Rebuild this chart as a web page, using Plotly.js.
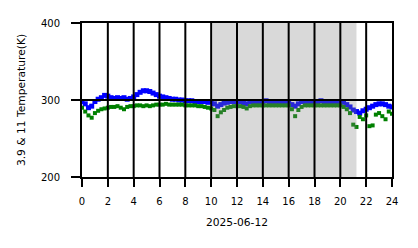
<!DOCTYPE html>
<html><head><meta charset="utf-8">
<script src="https://cdn.plot.ly/plotly-3.0.1.min.js"></script>
<style>html,body{margin:0;padding:0;background:#fff}#chart{width:418px;height:248px}</style>
</head><body><div id="chart"></div>
<script>
const dateLabel = "2025-06-12";
const yTitle = "3.9 & 11 Temperature(K)";
const xTicks = [0,2,4,6,8,10,12,14,16,18,20,22,24];
const yTicks = [200,300,400];
const shadeStart = 10.1;
const shadeEnd = 21.25;

const hours = [0,0.25,0.5,0.75,1,1.25,1.5,1.75,2,2.25,2.5,2.75,3,3.25,3.5,3.75,4,4.25,4.5,4.75,5,5.25,5.5,5.75,6,6.25,6.5,6.75,7,7.25,7.5,7.75,8,8.25,8.5,8.75,9,9.25,9.5,9.75,10,10.25,10.5,10.75,11,11.25,11.5,11.75,12,12.25,12.5,12.75,13,13.25,13.5,13.75,14,14.25,14.5,14.75,15,15.25,15.5,15.75,16,16.25,16.5,16.75,17,17.25,17.5,17.75,18,18.25,18.5,18.75,19,19.25,19.5,19.75,20,20.25,20.5,20.75,21,21.25,21.5,21.75,22,22.25,22.5,22.75,23,23.25,23.5,23.75,24];

const temp39 = [
298,295,290,292, 298,301,303,306, 305,303,302,303, 302,303,301,302,
304,307,310,312, 312,311,309,307, 305,304,303,302, 301,301,300,300,
299,299,299,298, 298,298,298,297, 298,295,292,294, 296,297,298,298,
298,298,296,295, 298,298,297,298, 298,299,298,298, 297,298,298,298,
297,294,292,295, 298,298,297,298, 298,298,299,298, 298,297,298,298,
298,297,294,291, 287,285,283,286, 288,290,292,294, 295,295,294,292, 291];

const temp11 = [
290,285,280,277, 283,286,288,289, 290,291,291,292, 290,288,291,292,
292,293,293,292, 293,292,293,294, 294,294,295,294, 294,294,294,294,
293,293,293,293, 292,292,291,290, 289,287,279,284, 287,290,291,292,
292,292,291,289, 292,293,293,293, 293,293,293,293, 293,293,293,293,
293,288,279,287, 291,293,293,293, 293,293,293,293, 293,293,293,293,
293,291,288,283, 268,265,278,275, 280,266,267,281, 283,279,275,285, 282];

const tickFont = {family: "DejaVu Sans", size: 10, color: "#000"};
const titleFont = {family: "DejaVu Sans", size: 10.7, color: "#000"};

const shapes = [{
  type: "rect", xref: "x", yref: "paper", x0: shadeStart, x1: shadeEnd, y0: 0, y1: 1,
  fillcolor: "rgb(128,128,128)", opacity: 0.3, line: {width: 0}, layer: "above"
}];
xTicks.slice(1, -1).forEach(t => shapes.push({
  type: "line", xref: "x", yref: "paper", x0: t, x1: t, y0: 0, y1: 1,
  line: {color: "#000", width: 2}, layer: "above"
}));
yTicks.slice(1, -1).forEach(v => shapes.push({
  type: "line", xref: "paper", yref: "y", x0: 0, x1: 1, y0: v, y1: v,
  line: {color: "#000", width: 2}, layer: "above"
}));

const traces = [
  {x: hours, y: temp39, type: "scatter", mode: "markers", name: "3.9",
   marker: {color: "rgb(0,0,255)", size: 5, symbol: "square", line: {width: 0}}},
  {x: hours, y: temp11, type: "scatter", mode: "markers", name: "11",
   marker: {color: "rgb(0,128,0)", size: 4, symbol: "square", line: {width: 0}}}
];

const layout = {
  width: 418, height: 248,
  margin: {l: 82, r: 26, t: 23, b: 71},
  paper_bgcolor: "#fff", plot_bgcolor: "#fff",
  showlegend: false, font: tickFont,
  xaxis: {
    range: [0, 24], tickvals: xTicks, ticktext: xTicks.map(String),
    showgrid: false, zeroline: false,
    showline: true, linecolor: "#000", linewidth: 2, mirror: true,
    ticks: "outside", ticklen: 8, tickwidth: 2, tickcolor: "#000",
    tickfont: tickFont, ticklabelstandoff: 6,
    title: {text: dateLabel, font: titleFont, standoff: 13}
  },
  yaxis: {
    range: [200, 400], tickvals: yTicks, ticktext: yTicks.map(String),
    showgrid: false, zeroline: false,
    showline: true, linecolor: "#000", linewidth: 2, mirror: true,
    ticks: "outside", ticklen: 9, tickwidth: 2, tickcolor: "#000",
    tickfont: tickFont, ticklabelstandoff: 9,
    title: {text: yTitle, font: titleFont, standoff: 13}
  },
  shapes: shapes
};

Plotly.newPlot("chart", traces, layout, {staticPlot: true, displayModeBar: false});
</script>
</body></html>
